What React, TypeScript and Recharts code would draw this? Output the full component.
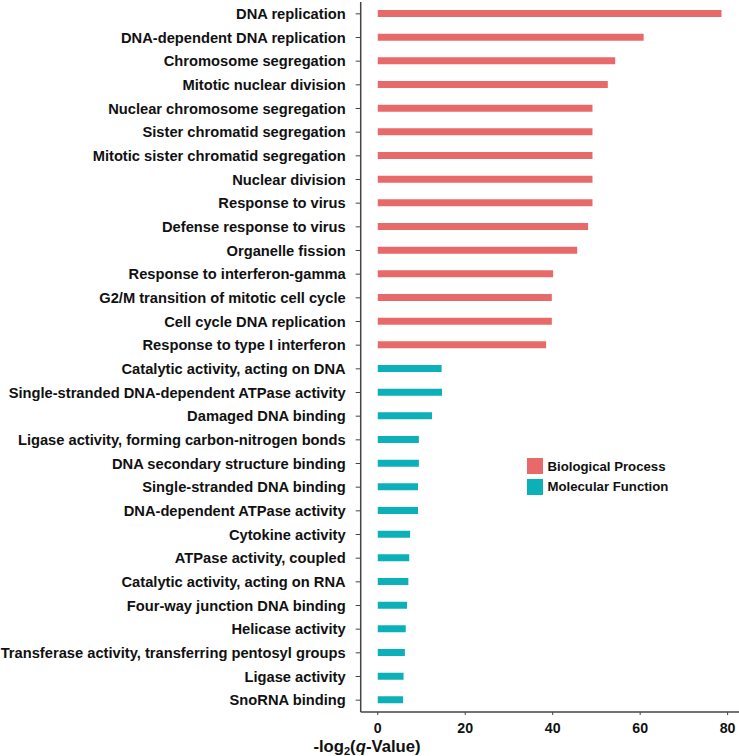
import React from 'react';
import { BarChart, Bar, XAxis, YAxis, Cell, Label } from 'recharts';

const categories = [
  'DNA replication',
  'DNA-dependent DNA replication',
  'Chromosome segregation',
  'Mitotic nuclear division',
  'Nuclear chromosome segregation',
  'Sister chromatid segregation',
  'Mitotic sister chromatid segregation',
  'Nuclear division',
  'Response to virus',
  'Defense response to virus',
  'Organelle fission',
  'Response to interferon-gamma',
  'G2/M transition of mitotic cell cycle',
  'Cell cycle DNA replication',
  'Response to type I interferon',
  'Catalytic activity, acting on DNA',
  'Single-stranded DNA-dependent ATPase activity',
  'Damaged DNA binding',
  'Ligase activity, forming carbon-nitrogen bonds',
  'DNA secondary structure binding',
  'Single-stranded DNA binding',
  'DNA-dependent ATPase activity',
  'Cytokine activity',
  'ATPase activity, coupled',
  'Catalytic activity, acting on RNA',
  'Four-way junction DNA binding',
  'Helicase activity',
  'Transferase activity, transferring pentosyl groups',
  'Ligase activity',
  'SnoRNA binding',
];

const values = [
  78.6, 60.8, 54.3, 52.6, 49.1, 49.1, 49.1, 49.1, 49.1, 48.1, 45.6, 40.1, 39.8, 39.8, 38.5,
  14.6, 14.7, 12.4, 9.4, 9.4, 9.2, 9.2, 7.4, 7.2, 7.0, 6.7, 6.4, 6.2, 5.9, 5.8,
];

const groups = [
  'BP', 'BP', 'BP', 'BP', 'BP', 'BP', 'BP', 'BP', 'BP', 'BP', 'BP', 'BP', 'BP', 'BP', 'BP',
  'MF', 'MF', 'MF', 'MF', 'MF', 'MF', 'MF', 'MF', 'MF', 'MF', 'MF', 'MF', 'MF', 'MF', 'MF',
];

const xTicks = [0, 20, 40, 60, 80];

const groupColors: Record<string, string> = { BP: '#E8696A', MF: '#0CB0B8' };
const groupNames: Record<string, string> = { BP: 'Biological Process', MF: 'Molecular Function' };

const font = 'Arial, "Liberation Sans", Helvetica, sans-serif';

const data = categories.map((name, i) => ({ name, value: values[i], group: groups[i] }));

// axis title with subscript 2 and italic q
const AxisTitle = () => (
  <text x={367} y={752} fontFamily={font} fontWeight="bold" fontSize={16.7} fill="#111" textAnchor="middle">
    <tspan>-log</tspan>
    <tspan fontSize={11} dy={3}>2</tspan>
    <tspan dy={-3}>(</tspan>
    <tspan fontStyle="italic">q</tspan>
    <tspan>-Value)</tspan>
  </text>
);

export default function App() {
  return (
    <div style={{ position: 'absolute', left: 0, top: 0, width: 739, height: 756, background: '#fff' }}>
      <BarChart
        width={739}
        height={756}
        data={data}
        layout="vertical"
        margin={{ top: 2, right: 0, left: 0, bottom: 0 }}
        barCategoryGap={0}
      >
        <XAxis
          type="number"
          domain={[-3.9, 82.6]}
          ticks={xTicks}
          allowDataOverflow
          axisLine={{ stroke: '#444', strokeWidth: 1.5 }}
          tickLine={{ stroke: '#444' }}
          tickSize={3}
          tickMargin={8}
          height={44}
          tick={{ fill: '#111', fontFamily: font, fontWeight: 'bold', fontSize: 14.2 }}
        >
          <Label content={AxisTitle} />
        </XAxis>
        <YAxis
          type="category"
          dataKey="name"
          width={360.7}
          interval={0}
          axisLine={{ stroke: '#444', strokeWidth: 1.5 }}
          tickLine={{ stroke: '#444' }}
          tickSize={5}
          tickMargin={10}
          tick={{ fill: '#111', fontFamily: font, fontWeight: 'bold', fontSize: 14.7 }}
        />
        <Bar dataKey="value" barSize={7} isAnimationActive={false}>
          {data.map((d) => (
            <Cell key={d.name} fill={groupColors[d.group]} />
          ))}
        </Bar>
      </BarChart>
      <div style={{ position: 'absolute', left: 527, top: 456, fontFamily: font, fontWeight: 'bold', fontSize: 13.2, color: '#111' }}>
        {['BP', 'MF'].map((g) => (
          <div key={g} style={{ display: 'flex', alignItems: 'center', height: 20.5 }}>
            <span style={{ display: 'inline-block', width: 15.5, height: 16, background: groupColors[g], marginRight: 5 }} />
            <span>{groupNames[g]}</span>
          </div>
        ))}
      </div>
    </div>
  );
}
